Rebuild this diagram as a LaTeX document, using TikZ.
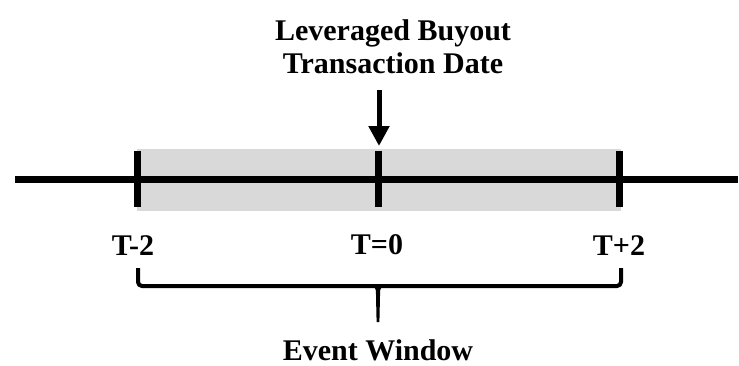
\documentclass[tikz,border=0pt]{standalone}
\usepackage{fontspec}
\setmainfont{Liberation Serif}
\usetikzlibrary{arrows.meta}
\definecolor{winfill}{HTML}{D9D9D9}
\tikzset{
  lbl/.style={font=\fontsize{30}{34}\selectfont\bfseries, anchor=base, inner sep=0pt},
  axis/.style={line width=7pt},
  tick/.style={line width=7pt},
  brace/.style={line width=4pt, line join=round, rounded corners=4pt}
}
\begin{document}
\begin{tikzpicture}[x=1pt,y=-1pt]
\useasboundingbox (0,0) rectangle (739,365);
% shaded window
\fill[winfill] (137,149) rectangle (621,211);
% axis
\coordinate (L) at (15,179);
\coordinate (R) at (738,179);
\draw[axis] (L) -- (R);
% ticks
\coordinate (a1) at (137,151); \coordinate (a2) at (137,207);
\coordinate (b1) at (378,151); \coordinate (b2) at (378,207);
\coordinate (c1) at (619,151); \coordinate (c2) at (619,207);
\draw[tick] (a1) -- (a2);
\draw[tick] (b1) -- (b2);
\draw[tick] (c1) -- (c2);
% title and arrow
\node[lbl] (t1) at (393,40) {Leveraged Buyout};
\node[lbl] (t2) at (393,73) {Transaction Date};
\coordinate (arTop) at (379,90);
\coordinate (arTip) at (379,146);
\draw[line width=5pt, -{Triangle[width=20pt,length=20pt]}] (arTop) -- (arTip);
% labels
\node[lbl] (m2) at (133,255) {T-2};
\node[lbl] (z0) at (377,254) {T=0};
\node[lbl] (p2) at (619,255) {T+2};
% brace
\coordinate (bl) at (138,268);
\coordinate (br) at (621,268);
\draw[brace] (bl) -- (138,286) -- (621,286) -- (br);
\coordinate (bm) at (378,286);
\coordinate (btip) at (378,322);
\fill (373,286) .. controls (376,289) .. (376,296) -- (376.6,322) -- (379.4,322) -- (380,296) .. controls (380,289) .. (383,286) -- cycle;
\node[lbl] (ew) at (378,360) {Event Window};
\end{tikzpicture}
\end{document}
